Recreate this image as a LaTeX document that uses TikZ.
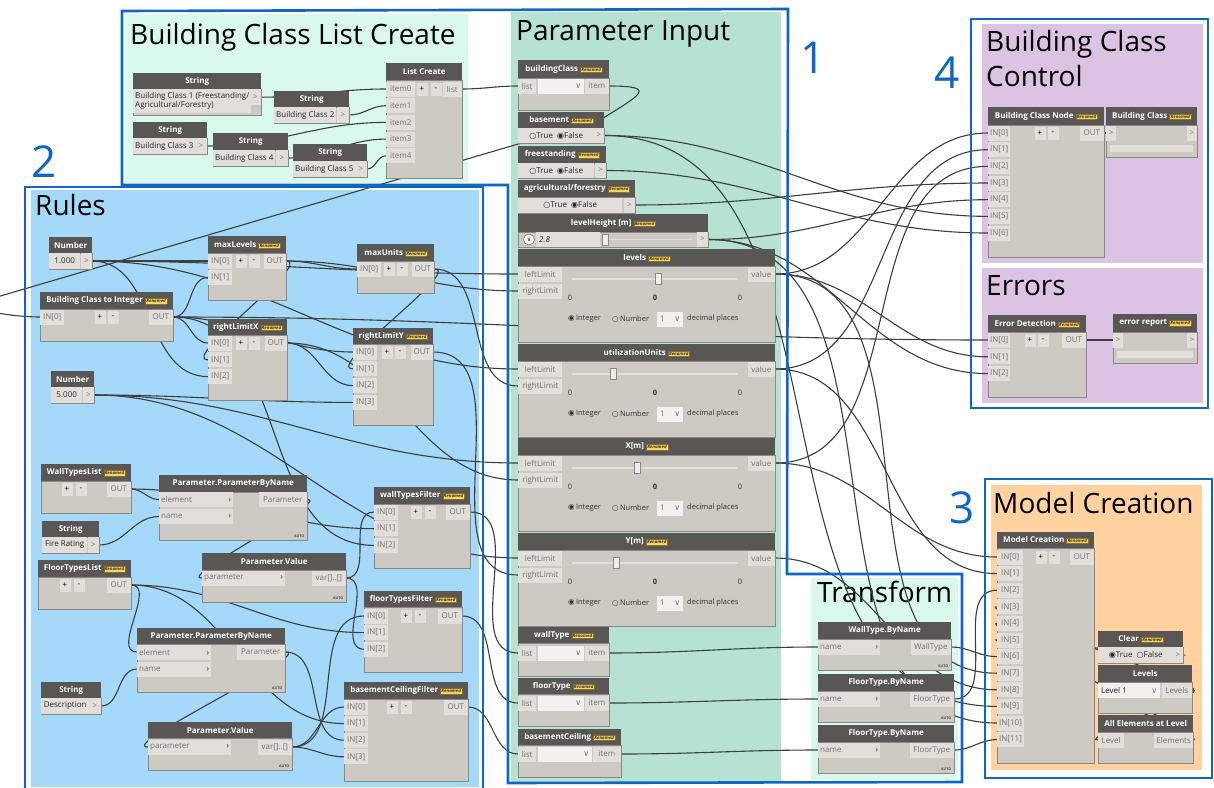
\documentclass[tikz,border=0pt]{standalone}
\usepackage{fontspec}
\setmainfont{Open Sans}
\newfontfamily\symfont{DejaVu Sans}
\usetikzlibrary{positioning}

\definecolor{dyblue}{RGB}{16,102,196}
\definecolor{mintbg}{RGB}{216,249,236}
\definecolor{tealbg}{RGB}{181,226,211}
\definecolor{rulebg}{RGB}{165,217,250}
\definecolor{lilacbg}{RGB}{221,195,227}
\definecolor{orangebg}{RGB}{255,210,160}
\definecolor{dyhd}{RGB}{88,87,85}
\definecolor{dybg}{RGB}{205,201,195}
\definecolor{dyedge}{RGB}{140,137,133}
\definecolor{dyport}{RGB}{226,223,219}
\definecolor{dytxt}{RGB}{115,115,115}
\definecolor{dywire}{RGB}{62,62,62}
\definecolor{tagfill}{RGB}{246,212,108}
\definecolor{tagedge}{RGB}{150,110,20}

\pgfdeclarelayer{bg}
\pgfdeclarelayer{wires}
\pgfsetlayers{bg,wires,main}

% yellow badge in the headers of renamed nodes
\newcommand{\renamed}{{\setlength{\fboxsep}{0.8pt}\setlength{\fboxrule}{0.4pt}%
  \fcolorbox{tagedge}{tagfill}{\fontsize{4.4}{4.4}\selectfont\itshape\color{black!80}Renamed}}}

% integer slider: name, title, header top, thumb x
\newcommand{\dyslider}[4]{%
  \node[dyhead,minimum width=257pt] (#1) at (518,#3) {#2\ \renamed};
  \begin{scope}[shift={(0,#3)}]
    \draw[dybody] (518,17) rectangle (775,93);
    \node[inport,minimum width=44pt] (#1-l) at (518,25) {leftLimit};
    \node[inport,minimum width=44pt] (#1-r) at (518,42) {rightLimit};
    \node[outport,minimum width=27pt] (#1-o) at (775,25) {value};
    \draw[track] (572,30) -- (738,30);
    \node[thumb] (#1-k) at (#4,30) {};
    \node[lbl] (#1-a) at (570,49) {0};
    \node[lbl,font=\fontsize{7.5}{8}\selectfont\bfseries] (#1-b) at (655,49) {0};
    \node[lbl] (#1-c) at (740,49) {0};
    \node[lbl,anchor=west] (#1-i) at (568,70) {{\symfont ◉}\,Integer};
    \node[lbl,anchor=west] (#1-n) at (612,70) {{\symfont ○}\,Number};
    \node[dd] (#1-d) at (657,70) {\hbox to 20pt{1\hfill{\symfont ∨}}};
    \node[lbl,anchor=west] (#1-p) at (687,70) {decimal places};
  \end{scope}}

\begin{document}
\begin{tikzpicture}[x=1pt,y=-1pt,font=\fontsize{8}{9}\selectfont,
    grp/.style={draw=dyblue,line width=2.6pt},
    gtitle/.style={anchor=base west,inner sep=0pt,font=\fontsize{28}{30}\selectfont},
    gnum/.style={anchor=base,inner sep=0pt,text=dyblue,font=\fontsize{44}{44}\selectfont},
    dyhead/.style={anchor=north west,fill=dyhd,text=white,minimum height=17pt,
      inner sep=0pt,font=\fontsize{8}{8}\selectfont\bfseries},
    dybody/.style={fill=dybg,draw=dyedge,line width=0.6pt},
    port/.style={fill=dyport,text=dytxt,minimum height=15pt,inner xsep=2pt,inner ysep=0pt},
    inport/.style={port,anchor=west},
    outport/.style={port,anchor=east},
    val/.style={port,anchor=west,text=black!85},
    btn/.style={fill=dyport,text=black,minimum width=11pt,minimum height=13pt,inner sep=0pt},
    lbl/.style={inner sep=0pt,text=black!80,font=\fontsize{7.5}{8}\selectfont},
    track/.style={draw=white!88!black,line width=1.6pt},
    thumb/.style={draw=dyedge,fill=white!93!black,minimum width=6pt,minimum height=11pt,inner sep=0pt},
    dd/.style={fill=white!55!dyport,text=dytxt,minimum height=15pt,inner xsep=3pt,inner ysep=0pt,anchor=west},
    autotag/.style={anchor=south east,inner sep=1.5pt,text=black!70,font=\fontsize{3.6}{4}\selectfont\bfseries},
    wire/.style={draw=dywire,line width=1.1pt,out=0,in=180}]
\useasboundingbox (0,0) rectangle (1214,787);

% group backgrounds and their titles
\begin{pgfonlayer}{bg}
  \fill[white] (0,0) rectangle (1214,787);
  \fill[mintbg] (125,14) rectangle (468,183);
  \fill[tealbg] (511,12) rectangle (781,782);
  \fill[rulebg] (31,190) rectangle (479,787);
  \fill[lilacbg] (982,24) rectangle (1203,263);
  \fill[lilacbg] (982,268) rectangle (1203,403);
  \fill[orangebg] (991,485) rectangle (1202,770);
  \fill[mintbg] (811,578) rectangle (958,780);
  \node[gtitle] (t-bclc) at (130,44) {Building Class List Create};
  \node[gtitle] (t-pin) at (516,40) {Parameter Input};
  \node[gtitle] (t-rules) at (35,215) {Rules};
  \node[gtitle] (t-bcc1) at (986,51) {Building Class};
  \node[gtitle] (t-bcc2) at (986,86) {Control};
  \node[gtitle] (t-err) at (986,295) {Errors};
  \node[gtitle] (t-mc) at (993,513) {Model Creation};
  \node[gtitle] (t-tr) at (817,602) {Transform};
\end{pgfonlayer}

% Building Class List Create
\node[dyhead,minimum width=128pt,minimum height=16pt] (s1) at (133,73) {String};
\draw[dybody] (133,89) rectangle (261,115);
\node[val,anchor=north west,align=left,minimum width=116pt,minimum height=24pt] (s1-v) at (133,89)
  {Building Class 1 (Freestanding/\\Agricultural/Forestry)};
\node[outport,anchor=north east,minimum width=11pt,minimum height=16pt] (s1-o) at (261,89) {>};
\node[dyhead,minimum width=75pt,minimum height=16pt] (s2) at (274,91) {String};
\draw[dybody] (274,107) rectangle (349,123);
\node[val,minimum width=62pt,minimum height=16pt] (s2-v) at (274,115) {Building Class 2};
\node[outport,minimum width=12pt,minimum height=16pt] (s2-o) at (349,115) {>};
\node[dyhead,minimum width=74pt,minimum height=16pt] (s3) at (133,122) {String};
\draw[dybody] (133,138) rectangle (207,154);
\node[val,minimum width=62pt,minimum height=16pt] (s3-v) at (133,146) {Building Class 3};
\node[outport,minimum width=12pt,minimum height=16pt] (s3-o) at (207,146) {>};
\node[dyhead,minimum width=75pt] (s4) at (213,133) {String};
\draw[dybody] (213,150) rectangle (288,166);
\node[val,minimum width=62pt,minimum height=16pt] (s4-v) at (213,158) {Building Class 4};
\node[outport,minimum width=12pt,minimum height=16pt] (s4-o) at (288,158) {>};
\node[dyhead,minimum width=74pt] (s5) at (293,144) {String};
\draw[dybody] (293,161) rectangle (367,177);
\node[val,minimum width=62pt,minimum height=16pt] (s5-v) at (293,169) {Building Class 5};
\node[outport,minimum width=12pt,minimum height=16pt] (s5-o) at (367,169) {>};

\node[dyhead,minimum width=76pt] (lc) at (386,63) {List Create};
\draw[dybody] (386,80) rectangle (462,178);
\node[inport,minimum width=29pt] (lc-0) at (386,89) {item0};
\node[inport,minimum width=29pt] (lc-1) at (386,105.7) {item1};
\node[inport,minimum width=29pt] (lc-2) at (386,122.4) {item2};
\node[inport,minimum width=29pt] (lc-3) at (386,139.1) {item3};
\node[inport,minimum width=29pt] (lc-4) at (386,155.8) {item4};
\node[btn] (lc-p) at (422,89) {+};
\node[btn] (lc-m) at (436,89) {-};
\node[outport,minimum width=19pt] (lc-o) at (462,89) {list};

% Parameter Input
\node[dyhead,minimum width=91pt,minimum height=18pt] (bc) at (518,60) {buildingClass\ \renamed};
\draw[dybody] (518,78) rectangle (609,110);
\node[inport,minimum width=18pt] (bc-l) at (518,86) {list};
\node[dd] (bc-d) at (538,86) {\hbox to 40pt{\hfill{\symfont ∨}}};
\node[outport,minimum width=24pt] (bc-o) at (609,86) {item};

\node[dyhead,minimum width=86pt,minimum height=16pt] (bs) at (518,112) {basement\ \renamed};
\draw[dybody] (518,128) rectangle (604,143);
\node[val,minimum width=76pt] (bs-v) at (518,135.5) {{\symfont ○}True\ \ {\symfont ◉}False};
\node[outport,minimum width=10pt] (bs-o) at (604,135.5) {>};
\node[dyhead,minimum width=88pt] (fs) at (518,146) {freestanding\ \renamed};
\draw[dybody] (518,163) rectangle (606,178);
\node[val,minimum width=76pt] (fs-v) at (518,170.5) {{\symfont ○}True\ \ {\symfont ◉}False};
\node[outport,minimum width=11pt] (fs-o) at (606,170.5) {>};
\node[dyhead,minimum width=117pt] (ag) at (518,180) {agricultural/forestry\ \renamed};
\draw[dybody] (518,197) rectangle (635,213);
\node[val,minimum width=104pt] (ag-v) at (518,205) {{\symfont ○}True\ \ {\symfont ◉}False\hspace{36pt}};
\node[outport,minimum width=11pt] (ag-o) at (635,205) {>};

\node[dyhead,minimum width=190pt,minimum height=18pt] (lh) at (518,214) {levelHeight [m]\ \renamed};
\draw[dybody] (518,232) rectangle (708,247);
\node[val,minimum width=64pt] (lh-v) at (536,239.5) {\hbox to 58pt{\itshape 2.8\hfill}};
\node[circle,draw=dyhd,fill=white,minimum size=11pt,inner sep=0pt] (lh-i) at (529,239.5)
  {{\symfont\fontsize{6}{6}\selectfont ∨}};
\draw[track] (607,239.5) -- (692,239.5);
\node[thumb] (lh-k) at (605,239.5) {};
\node[outport,minimum width=11pt] (lh-o) at (708,239.5) {>};

\dyslider{lv}{levels}{249}{658}
\dyslider{uu}{utilizationUnits}{344}{613}
\dyslider{xm}{X[m]}{438}{637}
\dyslider{ym}{Y[m]}{533}{616}

\node[dyhead,minimum width=91pt,minimum height=16pt] (wt) at (518,627) {wallType\ \renamed};
\draw[dybody] (518,643) rectangle (609,676);
\node[inport,minimum width=18pt] (wt-l) at (518,653) {list};
\node[dd] (wt-d) at (538,653) {\hbox to 40pt{\hfill{\symfont ∨}}};
\node[outport,minimum width=24pt] (wt-o) at (609,653) {item};
\node[dyhead,minimum width=91pt,minimum height=16pt] (ft) at (518,678) {floorType\ \renamed};
\draw[dybody] (518,694) rectangle (609,726);
\node[inport,minimum width=18pt] (ft-l) at (518,703) {list};
\node[dd] (ft-d) at (538,703) {\hbox to 40pt{\hfill{\symfont ∨}}};
\node[outport,minimum width=24pt] (ft-o) at (609,703) {item};
\node[dyhead,minimum width=103pt,minimum height=16pt] (bce) at (518,729) {basementCeiling\ \renamed};
\draw[dybody] (518,745) rectangle (621,777);
\node[inport,minimum width=18pt] (bce-l) at (518,754) {list};
\node[dd] (bce-d) at (538,754) {\hbox to 48pt{\hfill{\symfont ∨}}};
\node[outport,minimum width=28pt] (bce-o) at (621,754) {item};

% Building Class Control and Errors
\node[dyhead,minimum width=116pt,minimum height=18pt] (bcn) at (988,107) {Building Class Node\ \renamed};
\draw[dybody] (988,125) rectangle (1104,257);
\foreach \k in {0,...,6}
  \node[inport,minimum width=22pt] (bcn-\k) at (988,{133+16.67*\k}) {IN[\k]};
\node[btn] (bcn-p) at (1040,133) {+};
\node[btn] (bcn-m) at (1053,133) {-};
\node[outport,minimum width=24pt] (bcn-o) at (1104,133) {OUT};
\node[dyhead,minimum width=91pt,minimum height=18pt] (bcw) at (1106,107) {Building Class\ \renamed};
\draw[dybody] (1106,125) rectangle (1197,157);
\node[inport,minimum width=10pt] (bcw-i) at (1106,133) {>};
\node[outport,minimum width=10pt] (bcw-o) at (1197,133) {>};
\fill[dyport] (1110,145) rectangle (1193,152);

\node[dyhead,minimum width=98pt] (ed) at (988,315) {Error Detection\ \renamed};
\draw[dybody] (988,332) rectangle (1086,397);
\foreach \k in {0,...,2}
  \node[inport,minimum width=22pt] (ed-\k) at (988,{340+16.8*\k}) {IN[\k]};
\node[btn] (ed-p) at (1030,340) {+};
\node[btn] (ed-m) at (1043,340) {-};
\node[outport,minimum width=24pt] (ed-o) at (1086,340) {OUT};
\node[dyhead,minimum width=84pt,minimum height=18pt] (er) at (1113,314) {error report\ \renamed};
\draw[dybody] (1113,332) rectangle (1197,363);
\node[inport,minimum width=10pt] (er-i) at (1113,340) {>};
\node[outport,minimum width=10pt] (er-o) at (1197,340) {>};
\fill[dyport] (1117,351) rectangle (1193,358);

% Model Creation
\node[dyhead,minimum width=97pt,minimum height=16pt] (mc) at (997,532) {Model Creation\ \renamed};
\draw[dybody] (997,548) rectangle (1094,763);
\foreach \k in {0,...,11}
  \node[inport,minimum width=26pt] (mc-\k) at (997,{557+16.6*\k}) {IN[\k]};
\node[btn] (mc-p) at (1041,557) {+};
\node[btn] (mc-m) at (1054,557) {-};
\node[outport,minimum width=24pt] (mc-o) at (1094,557) {OUT};
\node[dyhead,minimum width=85pt,minimum height=16pt] (clr) at (1098,631) {Clear\ \renamed};
\draw[dybody] (1098,647) rectangle (1183,663);
\node[val,minimum width=75pt,minimum height=16pt] (clr-v) at (1098,655) {{\symfont ◉}True\ \ {\symfont ○}False};
\node[outport,minimum width=10pt,minimum height=16pt] (clr-o) at (1183,655) {>};
\node[dyhead,minimum width=94pt] (lvls) at (1098,665) {Levels};
\draw[dybody] (1098,682) rectangle (1192,713);
\node[dd,text=black!85] (lvls-d) at (1098,690) {\hbox to 56pt{Level 1\hfill{\symfont\color{dytxt}∨}}};
\node[outport,minimum width=30pt] (lvls-o) at (1192,690) {Levels};
\node[dyhead,minimum width=95pt] (ael) at (1098,715) {All Elements at Level};
\draw[dybody] (1098,732) rectangle (1193,763);
\node[inport,minimum width=26pt] (ael-i) at (1098,740) {Level};
\node[outport,minimum width=38pt] (ael-o) at (1193,740) {Elements};

% Transform
\node[dyhead,minimum width=133pt] (wtb) at (818,622) {WallType.ByName};
\draw[dybody] (818,639) rectangle (951,670);
\node[inport] (wtb-n) at (818,647) {\hbox to 58pt{name\hfill{\bfseries ›}}};
\node[outport,minimum width=40pt] (wtb-o) at (951,647) {WallType};
\node[autotag] (wtb-a) at (950,669) {AUTO};
\node[dyhead,minimum width=136pt] (ftb) at (818,674) {FloorType.ByName};
\draw[dybody] (818,691) rectangle (954,722);
\node[inport] (ftb-n) at (818,699) {\hbox to 58pt{name\hfill{\bfseries ›}}};
\node[outport,minimum width=44pt] (ftb-o) at (954,699) {FloorType};
\node[autotag] (ftb-a) at (953,721) {AUTO};
\node[dyhead,minimum width=136pt] (ftb2) at (818,725) {FloorType.ByName};
\draw[dybody] (818,742) rectangle (954,773);
\node[inport] (ftb2-n) at (818,750) {\hbox to 58pt{name\hfill{\bfseries ›}}};
\node[outport,minimum width=44pt] (ftb2-o) at (954,750) {FloorType};
\node[autotag] (ftb2-a) at (953,772) {AUTO};

% Rules
\node[dyhead,minimum width=43pt,minimum height=16pt] (n1) at (49,237) {Number};
\draw[dybody] (49,253) rectangle (92,269);
\node[val,minimum width=31pt,minimum height=16pt] (n1-v) at (49,261) {1.000};
\node[outport,minimum width=11pt,minimum height=16pt] (n1-o) at (92,261) {>};
\node[dyhead,minimum width=133pt] (bti) at (40,292) {Building Class to Integer\ \renamed};
\draw[dybody] (40,309) rectangle (173,341);
\node[inport,minimum width=24pt] (bti-0) at (40,317) {IN[0]};
\node[btn] (bti-p) at (100,317) {+};
\node[btn] (bti-m) at (113,317) {-};
\node[outport,minimum width=24pt] (bti-o) at (173,317) {OUT};
\node[dyhead,minimum width=78pt] (ml) at (208,236) {maxLevels\ \renamed};
\draw[dybody] (208,253) rectangle (286,300);
\node[inport,minimum width=24pt] (ml-0) at (208,261) {IN[0]};
\node[inport,minimum width=24pt] (ml-1) at (208,277.5) {IN[1]};
\node[btn] (ml-p) at (241,261) {+};
\node[btn] (ml-m) at (254,261) {-};
\node[outport,minimum width=22pt] (ml-o) at (286,261) {OUT};
\node[dyhead,minimum width=77pt] (mu) at (357,244) {maxUnits\ \renamed};
\draw[dybody] (357,261) rectangle (434,293);
\node[inport,minimum width=24pt] (mu-0) at (357,269) {IN[0]};
\node[btn] (mu-p) at (389,269) {+};
\node[btn] (mu-m) at (402,269) {-};
\node[outport,minimum width=22pt] (mu-o) at (434,269) {OUT};
\node[dyhead,minimum width=79pt,minimum height=16pt] (rlx) at (208,319) {rightLimitX\ \renamed};
\draw[dybody] (208,335) rectangle (287,400);
\foreach \k in {0,...,2}
  \node[inport,minimum width=24pt] (rlx-\k) at (208,{343+16.8*\k}) {IN[\k]};
\node[btn] (rlx-p) at (241,343) {+};
\node[btn] (rlx-m) at (254,343) {-};
\node[outport,minimum width=22pt] (rlx-o) at (287,343) {OUT};
\node[dyhead,minimum width=80pt,minimum height=16pt] (rly) at (353,328) {rightLimitY\ \renamed};
\draw[dybody] (353,344) rectangle (433,425);
\foreach \k in {0,...,3}
  \node[inport,minimum width=24pt] (rly-\k) at (353,{352+16.8*\k}) {IN[\k]};
\node[btn] (rly-p) at (387,352) {+};
\node[btn] (rly-m) at (400,352) {-};
\node[outport,minimum width=22pt] (rly-o) at (433,352) {OUT};
\node[dyhead,minimum width=43pt,minimum height=16pt] (n5) at (51,371) {Number};
\draw[dybody] (51,387) rectangle (94,403);
\node[val,minimum width=31pt,minimum height=16pt] (n5-v) at (51,395) {5.000};
\node[outport,minimum width=11pt,minimum height=16pt] (n5-o) at (94,395) {>};

\node[dyhead,minimum width=90pt] (wtl) at (41,464) {WallTypesList\ \renamed};
\draw[dybody] (41,481) rectangle (131,513);
\node[btn] (wtl-p) at (67,489) {+};
\node[btn] (wtl-m) at (81,489) {-};
\node[outport,minimum width=24pt] (wtl-o) at (131,489) {OUT};
\node[dyhead,minimum width=57pt,minimum height=16pt] (fr) at (42,521) {String};
\draw[dybody] (42,537) rectangle (99,553);
\node[val,minimum width=45pt,minimum height=16pt] (fr-v) at (42,545) {Fire Rating};
\node[outport,minimum width=11pt,minimum height=16pt] (fr-o) at (99,545) {>};
\node[dyhead,minimum width=93pt] (ftl) at (38,560) {FloorTypesList\ \renamed};
\draw[dybody] (38,577) rectangle (131,609);
\node[btn] (ftl-p) at (65,585) {+};
\node[btn] (ftl-m) at (79,585) {-};
\node[outport,minimum width=24pt] (ftl-o) at (131,585) {OUT};

\node[dyhead,minimum width=148pt] (pbn1) at (159,475) {Parameter.ParameterByName};
\draw[dybody] (159,492) rectangle (307,540);
\node[inport] (pbn1-e) at (159,499.5) {\hbox to 70pt{element\hfill{\bfseries ›}}};
\node[inport] (pbn1-n) at (159,516.5) {\hbox to 70pt{name\hfill{\bfseries ›}}};
\node[outport,minimum width=48pt] (pbn1-o) at (307,499.5) {Parameter};
\node[autotag] (pbn1-a) at (306,539) {AUTO};
\node[dyhead,minimum width=144pt] (pv1) at (202,553) {Parameter.Value};
\draw[dybody] (202,570) rectangle (346,602);
\node[inport] (pv1-i) at (202,578) {\hbox to 79pt{parameter\hfill{\bfseries ›}}};
\node[outport,minimum width=34pt] (pv1-o) at (346,578) {var[]..[]};
\node[autotag] (pv1-a) at (345,601) {AUTO};
\node[dyhead,minimum width=96pt] (wtf) at (374,487) {wallTypesFilter\ \renamed};
\draw[dybody] (374,504) rectangle (470,568);
\foreach \k in {0,...,2}
  \node[inport,minimum width=24pt] (wtf-\k) at (374,{512+16.7*\k}) {IN[\k]};
\node[btn] (wtf-p) at (416,512) {+};
\node[btn] (wtf-m) at (430,512) {-};
\node[outport,minimum width=24pt] (wtf-o) at (470,512) {OUT};

\node[dyhead,minimum width=148pt,minimum height=16pt] (pbn2) at (137,628) {Parameter.ParameterByName};
\draw[dybody] (137,644) rectangle (285,692);
\node[inport] (pbn2-e) at (137,652) {\hbox to 70pt{element\hfill{\bfseries ›}}};
\node[inport] (pbn2-n) at (137,669) {\hbox to 70pt{name\hfill{\bfseries ›}}};
\node[outport,minimum width=48pt] (pbn2-o) at (285,652) {Parameter};
\node[autotag] (pbn2-a) at (284,691) {AUTO};
\node[dyhead,minimum width=60pt,minimum height=16pt] (desc) at (41,682) {String};
\draw[dybody] (41,698) rectangle (101,714);
\node[val,minimum width=48pt,minimum height=16pt] (desc-v) at (41,706) {Description};
\node[outport,minimum width=12pt,minimum height=16pt] (desc-o) at (101,706) {>};
\node[dyhead,minimum width=144pt,minimum height=16pt] (pv2) at (148,722) {Parameter.Value};
\draw[dybody] (148,738) rectangle (292,770);
\node[inport] (pv2-i) at (148,747) {\hbox to 79pt{parameter\hfill{\bfseries ›}}};
\node[outport,minimum width=34pt] (pv2-o) at (292,747) {var[]..[]};
\node[autotag] (pv2-a) at (291,769) {AUTO};
\node[dyhead,minimum width=98pt,minimum height=16pt] (ftf) at (364,591) {floorTypesFilter\ \renamed};
\draw[dybody] (364,607) rectangle (462,672);
\foreach \k in {0,...,2}
  \node[inport,minimum width=24pt] (ftf-\k) at (364,{616+16.6*\k}) {IN[\k]};
\node[btn] (ftf-p) at (406,616) {+};
\node[btn] (ftf-m) at (420,616) {-};
\node[outport,minimum width=24pt] (ftf-o) at (462,616) {OUT};
\node[dyhead,minimum width=124pt] (bcf) at (344,682) {basementCeilingFilter\ \renamed};
\draw[dybody] (344,699) rectangle (468,781);
\foreach \k in {0,...,3}
  \node[inport,minimum width=24pt] (bcf-\k) at (344,{707+16.6*\k}) {IN[\k]};
\node[btn] (bcf-p) at (392,707) {+};
\node[btn] (bcf-m) at (406,707) {-};
\node[outport,minimum width=24pt] (bcf-o) at (468,707) {OUT};

% wires, kept under the nodes
\begin{pgfonlayer}{wires}
  \draw[wire] (s1-o.east) to (lc-0.west);
  \draw[wire] (s2-o.east) to (lc-1.west);
  \draw[wire] (s3-o.east) to (lc-2.west);
  \draw[wire] (s4-o.east) to (lc-3.west);
  \draw[wire] (s5-o.east) to (lc-4.west);
  \draw[wire] (lc-o.east) to (bc-l.west);
  \draw[wire] (bc-o.east) .. controls +(50,0) and +(40,-25) .. (600,120) -- (-20,302)
    .. controls +(-20,6) and +(-30,0) .. (bti-0.west);

  \draw[wire] (n1-o.east) to (ml-0.west);
  \draw[wire] (n1-o.east) to (lv-l.west);
  \draw[wire] (n1-o.east) to (uu-l.west);
  \draw[wire] (n1-o.east) to (rlx-2.west);
  \draw[wire] (bti-o.east) to (ml-1.west);
  \draw[wire] (bti-o.east) to (rlx-0.west);
  \draw[wire] (bti-o.east) to (rly-0.west);
  \draw[wire] (bti-o.east) to (ed-0.west);
  \draw[wire] (bti-o.east) to (wtf-2.west);
  \draw[wire] (ml-o.east) to (mu-0.west);
  \draw[wire] (ml-o.east) to (lv-r.west);
  \draw[wire,looseness=0.6] (ml-o.east) to (rlx-1.west);
  \draw[wire] (mu-o.east) to (uu-r.west);
  \draw[wire,looseness=0.6] (mu-o.east) to (rly-1.west);
  \draw[wire] (rlx-o.east) to (rly-2.west);
  \draw[wire] (rlx-o.east) to (xm-r.west);
  \draw[wire] (rly-o.east) to (ym-r.west);
  \draw[wire] (n5-o.east) to (xm-l.west);
  \draw[wire] (n5-o.east) to (ym-l.west);
  \draw[wire] (n5-o.east) to (rly-3.west);
  \draw[wire] (wtl-o.east) to (pbn1-e.west);
  \draw[wire] (wtl-o.east) to (wtf-1.west);
  \draw[wire] (fr-o.east) to (pbn1-n.west);
  \draw[wire,looseness=0.5] (pbn1-o.east) to (pv1-i.west);
  \draw[wire] (pv1-o.east) to (wtf-0.west);
  \draw[wire] (pv1-o.east) to (ftf-2.west);
  \draw[wire] (ftl-o.east) to (pbn2-e.west);
  \draw[wire] (ftl-o.east) to (ftf-1.west);
  \draw[wire] (ftl-o.east) to (bcf-1.west);
  \draw[wire] (desc-o.east) to (pbn2-n.west);
  \draw[wire,looseness=0.5] (pbn2-o.east) to (pv2-i.west);
  \draw[wire] (pbn2-o.east) to (bcf-2.west);
  \draw[wire] (pv2-o.east) to (ftf-0.west);
  \draw[wire] (pv2-o.east) to (bcf-0.west);
  \draw[wire] (pv2-o.east) to (bcf-3.west);
  \draw[wire] (wtf-o.east) to (wt-l.west);
  \draw[wire] (ftf-o.east) to (ft-l.west);
  \draw[wire] (bcf-o.east) to (bce-l.west);

  \draw[wire] (lv-o.east) to (bcn-0.west);
  \draw[wire] (uu-o.east) to (bcn-1.west);
  \draw[wire] (xm-o.east) to (bcn-2.west);
  \draw[wire] (ag-o.east) to (bcn-3.west);
  \draw[wire] (lh-o.east) to (bcn-4.west);
  \draw[wire] (bs-o.east) to (bcn-5.west);
  \draw[wire] (fs-o.east) to (bcn-6.west);
  \draw[wire] (bcn-o.east) to (bcw-i.west);
  \draw[wire] (lv-o.east) to (ed-1.west);
  \draw[wire] (lh-o.east) to (ed-2.west);
  \draw[wire] (ed-o.east) to (er-i.west);

  \draw[wire] (wt-o.east) to (wtb-n.west);
  \draw[wire] (ft-o.east) to (ftb-n.west);
  \draw[wire] (bce-o.east) to (ftb2-n.west);
  \draw[wire] (xm-o.east) to (mc-0.west);
  \draw[wire] (uu-o.east) to (mc-1.west);
  \draw[wire] (ftb-o.east) to (mc-2.west);
  \draw[wire] (lvls-o.east) .. controls +(25,0) and +(-25,0) .. (mc-3.west);
  \draw[wire] (ael-o.east) .. controls +(20,0) and +(-20,0) .. (mc-4.west);
  \draw[wire] (clr-o.east) .. controls +(20,0) and +(-20,0) .. (mc-5.west);
  \draw[wire] (lvls-o.east) .. controls +(22,0) and +(-22,0) .. (ael-i.west);
  \draw[wire] (wtb-o.east) to (mc-6.west);
  \draw[wire] (lv-o.east) to (mc-7.west);
  \draw[wire] (ym-o.east) to (mc-8.west);
  \draw[wire] (bs-o.east) to (mc-9.west);
  \draw[wire] (lh-o.east) to (mc-10.west);
  \draw[wire] (ftb2-o.east) to (mc-11.west);
\end{pgfonlayer}

% blue outlines and numbers
\draw[grp] (122,11) -- (788,9) -- (787,574) -- (962,574) -- (962,782) -- (508,783)
  -- (508,185) -- (122,185) -- cycle;
\draw[grp] (25,187) rectangle (483,795);
\draw[grp] (971,19) rectangle (1208,408);
\draw[grp] (985,479) rectangle (1212,778);
\node[gnum] (g1) at (813,73) {1};
\node[gnum] (g2) at (44,177) {2};
\node[gnum] (g3) at (962,523) {3};
\node[gnum] (g4) at (947,88) {4};
\end{tikzpicture}
\end{document}
